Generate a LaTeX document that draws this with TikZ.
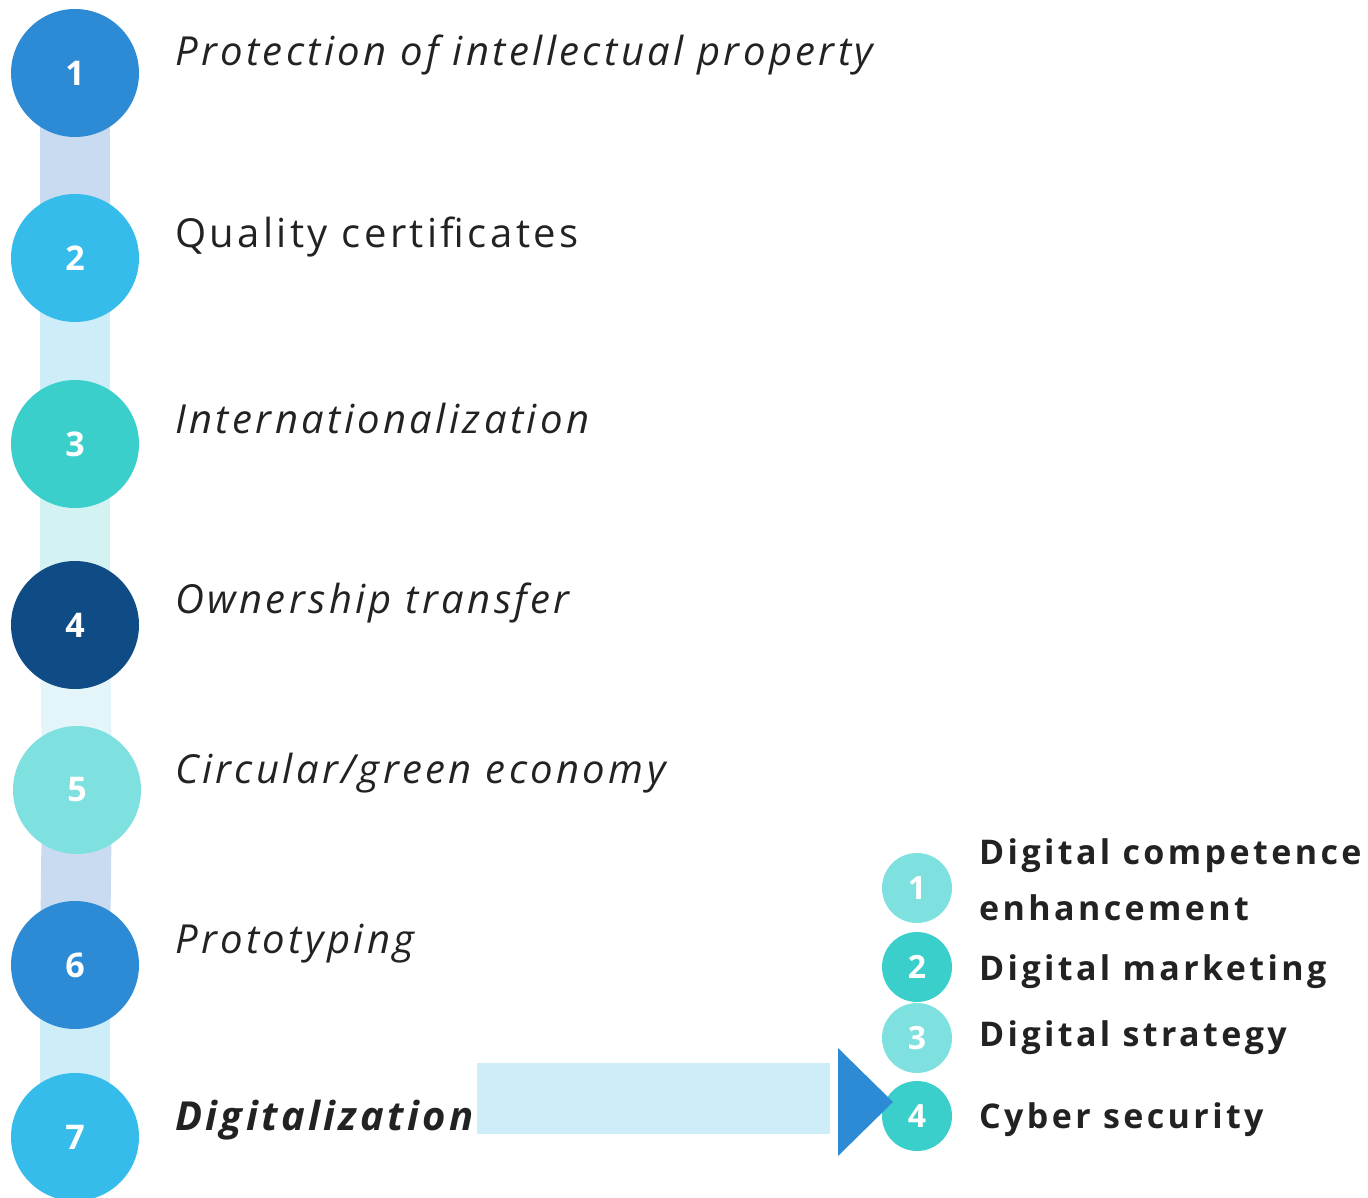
\documentclass[tikz,border=0pt]{standalone}
\usepackage{fontspec}
\setmainfont{Open Sans}
\newfontfamily\labfont[LetterSpace=8.5]{Open Sans}
\newfontfamily\subfont[LetterSpace=10]{Open Sans}
\newfontfamily\numfont{Open Sans}
\usetikzlibrary{backgrounds}
\definecolor{cblue}{HTML}{2D8BD5}
\definecolor{ccyan}{HTML}{35BCEB}
\definecolor{cteal}{HTML}{3ACFCB}
\definecolor{cnavy}{HTML}{0F4C85}
\definecolor{clteal}{HTML}{7FE0E0}
\definecolor{barA}{HTML}{C9DBF0}
\definecolor{barB}{HTML}{CDEEF8}
\definecolor{barC}{HTML}{D3F3F3}
\definecolor{barD}{HTML}{E3F5F8}
\definecolor{txt}{HTML}{222222}
\begin{document}
\begin{tikzpicture}[x=1pt,y=-1pt,
  bigc/.style={circle,minimum size=128pt,inner sep=0pt,text=white,font=\numfont\bfseries\fontsize{34}{36}\selectfont},
  smallc/.style={circle,minimum size=70pt,inner sep=0pt,text=white,font=\numfont\bfseries\fontsize{32}{34}\selectfont},
  item/.style={anchor=base west,inner sep=0pt,text=txt,font=\labfont\fontsize{40}{44}\selectfont},
  sub/.style={anchor=base west,inner sep=0pt,text=txt,font=\subfont\bfseries\fontsize{34}{38}\selectfont},
  bar/.style={line width=70pt}]
\useasboundingbox (0,0) rectangle (1368,1198);
% big circles
\node[bigc,fill=cblue] (n1) at (75,73) {1};
\node[bigc,fill=ccyan] (n2) at (75,258) {2};
\node[bigc,fill=cteal] (n3) at (75,444) {3};
\node[bigc,fill=cnavy] (n4) at (75,625) {4};
\node[bigc,fill=clteal] (n5) at (77,790) {5};
\node[bigc,fill=cblue] (n6) at (75,965) {6};
\node[bigc,fill=ccyan] (n7) at (75,1137) {7};
\begin{pgfonlayer}{background}
\draw[bar,barA] (n1.center) -- (n2.center);
\draw[bar,barB] (n2.center) -- (n3.center);
\draw[bar,barC] (n3.center) -- (n4.center);
\draw[bar,barD] (n4.center) -- (n5.center);
\draw[bar,barA] (n5.center) -- (n6.center);
\draw[bar,barB] (n6.center) -- (n7.center);
\end{pgfonlayer}
% labels
\node[item] (t1) at (175,66) {\itshape Protection of intellectual property};
\node[item] (t2) at (175,248) {Quality certificates};
\node[item] (t3) at (175,433) {\itshape Internationalization};
\node[item] (t4) at (175,613) {\itshape Ownership transfer};
\node[item] (t5) at (175,783) {\itshape Circular/green economy};
\node[item] (t6) at (175,953) {\itshape Prototyping};
\node[item] (t7) at (175,1130) {\bfseries\itshape Digitalization};
% arrow
\coordinate (ae) at (830,1098);
\draw[line width=71pt,barB] ([xshift=3pt]t7.east |- ae) -- (ae);
% small circles
\node[smallc,fill=clteal] (s1) at (917,888) {1};
\node[smallc,fill=cteal] (s2) at (917,967) {2};
\node[smallc,fill=clteal] (s3) at (917,1038) {3};
\node[smallc,fill=cteal] (s4) at (917,1116) {4};
\fill[cblue] (838,1048) -- (838,1156) -- (893,1102) -- cycle;
% sub labels
\node[sub] (u1) at (979,864) {Digital competence};
\node[sub] (u1b) at (979,920) {enhancement};
\node[sub] (u2) at (979,980) {Digital marketing};
\node[sub] (u3) at (979,1046) {Digital strategy};
\node[sub] (u4) at (979,1128) {Cyber security};
\end{tikzpicture}
\end{document}
